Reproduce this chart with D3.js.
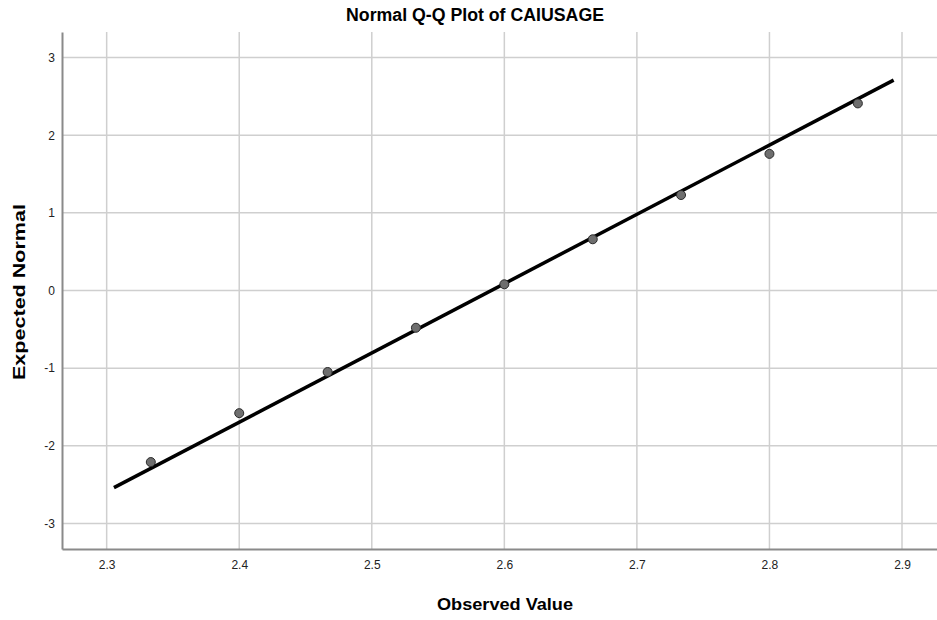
<!DOCTYPE html>
<html>
<head>
<meta charset="utf-8">
<script src="https://cdn.jsdelivr.net/npm/d3@7"></script>
<style>
  body { margin: 0; background: #fff; }
  svg { display: block; font-family: "Liberation Sans", Arial, sans-serif; }
</style>
</head>
<body>
<div id="chart"></div>
<script>
// observed values (x) and expected normal values (y)
const observed = [2.3333, 2.4, 2.4667, 2.5333, 2.6, 2.6667, 2.7333, 2.8, 2.8667];
const expected = [-2.21, -1.58, -1.05, -0.48, 0.08, 0.66, 1.23, 1.76, 2.41];

// reference line endpoints
const lineX = [2.3055, 2.8937];
const lineY = [-2.54, 2.71];

const xTicks = [2.3, 2.4, 2.5, 2.6, 2.7, 2.8, 2.9];
const yTicks = [-3, -2, -1, 0, 1, 2, 3];

const WIDTH = 937;
const HEIGHT = 620;
const margin = {top: 32, right: 0, bottom: 71, left: 62};
const width = WIDTH - margin.left - margin.right;
const height = HEIGHT - margin.top - margin.bottom;

const svg = d3.select('#chart').append('svg')
  .attr('width', WIDTH)
  .attr('height', HEIGHT);

const g = svg.append('g')
  .attr('transform', `translate(${margin.left},${margin.top})`);

const x = d3.scaleLinear().domain([2.2663, 2.9264]).range([0, width]);
const y = d3.scaleLinear().domain([-3.33, 3.33]).range([height, 0]);

// grid
g.append('g').selectAll('line').data(xTicks).join('line')
  .attr('x1', d => x(d)).attr('x2', d => x(d))
  .attr('y1', 0).attr('y2', height)
  .attr('stroke', '#cfcfcf').attr('stroke-width', 1.5);

g.append('g').selectAll('line').data(yTicks).join('line')
  .attr('x1', 0).attr('x2', width)
  .attr('y1', d => y(d)).attr('y2', d => y(d))
  .attr('stroke', '#cfcfcf').attr('stroke-width', 1.5);

// axes
const xAxis = g.append('g')
  .attr('transform', `translate(0,${height})`)
  .call(d3.axisBottom(x).tickValues(xTicks).tickSize(0).tickPadding(11).tickFormat(d3.format('.1f')));
xAxis.select('.domain').attr('stroke', '#8a8a8a').attr('stroke-width', 2);
xAxis.selectAll('text').attr('font-size', 12).attr('fill', '#222');

const yAxis = g.append('g')
  .call(d3.axisLeft(y).tickValues(yTicks).tickSize(0).tickPadding(7).tickFormat(d => String(d)));
yAxis.select('.domain').attr('stroke', '#8a8a8a').attr('stroke-width', 2);
yAxis.selectAll('text').attr('font-size', 12).attr('fill', '#222');

// reference line
g.append('line')
  .attr('x1', x(lineX[0])).attr('y1', y(lineY[0]))
  .attr('x2', x(lineX[1])).attr('y2', y(lineY[1]))
  .attr('stroke', '#000').attr('stroke-width', 3.5);

// points
g.append('g').selectAll('circle').data(observed).join('circle')
  .attr('cx', d => x(d))
  .attr('cy', (d, i) => y(expected[i]))
  .attr('r', 4.5)
  .attr('fill', '#6e6e6e')
  .attr('stroke', '#2a2a2a')
  .attr('stroke-width', 1);

// titles
svg.append('text')
  .attr('x', 475).attr('y', 21)
  .attr('text-anchor', 'middle')
  .attr('font-size', 18).attr('font-weight', 'bold')
  .attr('textLength', 258).attr('lengthAdjust', 'spacingAndGlyphs')
  .text('Normal Q-Q Plot of CAIUSAGE');

svg.append('text')
  .attr('transform', 'translate(25,292) rotate(-90)')
  .attr('text-anchor', 'middle')
  .attr('font-size', 17).attr('font-weight', 'bold')
  .attr('textLength', 176).attr('lengthAdjust', 'spacingAndGlyphs')
  .text('Expected Normal');

svg.append('text')
  .attr('x', 505).attr('y', 610)
  .attr('text-anchor', 'middle')
  .attr('font-size', 17).attr('font-weight', 'bold')
  .attr('textLength', 136).attr('lengthAdjust', 'spacingAndGlyphs')
  .text('Observed Value');
</script>
</body>
</html>
